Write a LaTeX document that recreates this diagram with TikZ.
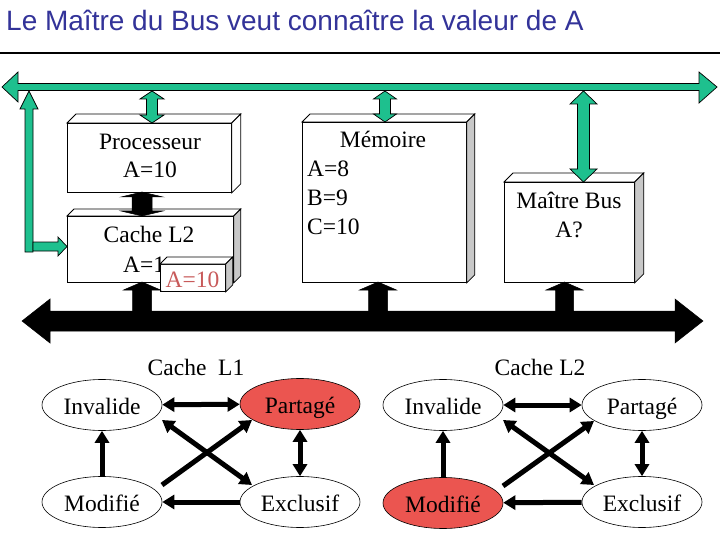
\documentclass[tikz,border=0pt]{standalone}
\usepackage{fontspec}
\setmainfont{Liberation Serif}
\newfontfamily\titlefont{Liberation Sans}
\usetikzlibrary{shapes.geometric,arrows.meta,calc}
\definecolor{busgreen}{RGB}{30,192,142}
\definecolor{titleblue}{RGB}{51,51,153}
\definecolor{sidegray}{RGB}{200,200,200}
\definecolor{statered}{RGB}{235,85,80}
\definecolor{valred}{RGB}{200,90,90}
\newcommand\boxfaces[3]{%
  \draw[face] (#1.north west) -- ++(#2,-#2) -- ($(#1.north east)+(#2,-#2)$) -- (#1.north east) -- cycle;
  \draw[#3] (#1.north east) -- ++(#2,-#2) -- ($(#1.south east)+(#2,-#2)$) -- (#1.south east) -- cycle;}
\newcommand\vdbl[7]{%
  \filldraw[#7] (#1,#2) -- ({#1+#5},{#2+#6}) -- ({#1+#4},{#2+#6}) -- ({#1+#4},{#3-#6}) -- ({#1+#5},{#3-#6}) -- (#1,#3) -- ({#1-#5},{#3-#6}) -- ({#1-#4},{#3-#6}) -- ({#1-#4},{#2+#6}) -- ({#1-#5},{#2+#6}) -- cycle;}
\newcommand\vup[7]{%
  \filldraw[#7] (#1,#2) -- ({#1+#5},{#2+#6}) -- ({#1+#4},{#2+#6}) -- ({#1+#4},#3) -- ({#1-#4},#3) -- ({#1-#4},{#2+#6}) -- ({#1-#5},{#2+#6}) -- cycle;}
\begin{document}
\begin{tikzpicture}[x=1pt,y=-1pt,
  face/.style={draw, line width=0.8pt, fill=white},
  side/.style={draw, line width=0.8pt, fill=sidegray},
  boxnode/.style={draw, line width=0.8pt, fill=white, rectangle, anchor=north west, inner sep=0pt},
  txt/.style={font=\fontsize{23.5}{28}\selectfont, inner sep=0pt, anchor=base},
  txtl/.style={txt, anchor=base west},
  blockg/.style={fill=busgreen, draw=black, line width=0.7pt, line join=miter},
  blockk/.style={fill=black, draw=black, line width=0.5pt},
  state/.style={ellipse, draw, line width=0.6pt, minimum width=120, minimum height=51, inner sep=0pt, text height=19pt, text depth=1pt, font=\fontsize{23.5}{28}\selectfont},
  sarrow/.style={line width=5pt, -{Triangle[length=12pt,width=14pt]}},
  darrow/.style={line width=5pt, {Triangle[length=12pt,width=14pt]}-{Triangle[length=12pt,width=14pt]}}]
\useasboundingbox (0,0) rectangle (720,540);
\fill[white] (0,0) rectangle (720,540);
% title
\node[inner sep=0pt, anchor=base west, text=titleblue, font=\titlefont\fontsize{28}{32}\selectfont] (title) at (6,31) {Le Maître du Bus veut connaître la valeur de A};
\coordinate (rl) at (0,53);
\coordinate (rr) at (720,53);
\draw[line width=1.1pt] (rl) -- (rr);
% boxes
\node[boxnode, minimum width=164, minimum height=69] (proc) at (67,123) {};
\boxfaces{proc}{9}{face}
\node[boxnode, minimum width=166, minimum height=66] (cache) at (67,216) {};
\boxfaces{cache}{7}{side}
\node[boxnode, minimum width=164, minimum height=160] (mem) at (302,122) {};
\boxfaces{mem}{8}{side}
\node[boxnode, minimum width=130, minimum height=100] (maitre) at (504,182) {};
\boxfaces{maitre}{9}{side}
% box texts
\node[txt] (tproc) at (150,150) {Processeur};
\node[txt] (tprocA) at (150,178) {A=10};
\node[txt] (tcache) at (149,243) {Cache L2};
\node[txtl] (tcacheA) at (123,272) {A=1};
\node[txt] (tmem) at (383,148) {Mémoire};
\node[txtl] (tmemA) at (307,177) {A=8};
\node[txtl] (tmemB) at (307,206) {B=9};
\node[txtl] (tmemC) at (307,235) {C=10};
\node[txt] (tmai) at (569,208) {Maître Bus};
\node[txt] (tmaiA) at (569,237) {A?};
% overlay value box
\node[boxnode, minimum width=65, minimum height=27] (ov) at (160,264) {};
\boxfaces{ov}{7}{side}
\node[txt, text=valred] (tov) at (192.5,287) {A=10};
% green bus
\filldraw[blockg] (2,87) -- (18,72) -- (18,83.5) -- (699,83.5) -- (699,72) -- (717,87) -- (699,103) -- (699,90.5) -- (18,90.5) -- (18,102) -- cycle;
% green left L arrows
\filldraw[blockg] (29,91) -- (38,109) -- (33,109) -- (33,252) -- (25,252) -- (25,109) -- (20,109) -- cycle;
\filldraw[blockg] (33,242) -- (58,242) -- (58,237) -- (67,246.5) -- (58,256) -- (58,251) -- (33,251) -- cycle;
% green double arrows
\vdbl{152}{91}{123}{5.5}{12}{8}{blockg}
\vdbl{385}{91}{122}{5.5}{11.5}{8}{blockg}
\vdbl{583.5}{91}{182}{6}{13.5}{13}{blockg}
% black bus
\filldraw[blockk] (22,321) -- (50,299) -- (50,311) -- (675,311) -- (675,299) -- (703,321) -- (675,343) -- (675,331) -- (50,331) -- (50,343) -- cycle;
\vup{142}{282}{311}{9.5}{18.5}{8}{blockk}
\vup{378}{282}{311}{9.5}{18.5}{8}{blockk}
\vup{564.5}{282}{311}{9}{18.5}{8}{blockk}
\vdbl{142}{192}{216}{10}{21}{5}{blockk}
% state diagrams
\node[txt] (l1) at (196,375) {Cache~ L1};
\node[txt] (l2) at (540,375) {Cache L2};
\node[state] (inv1) at (102,405) {Invalide};
\node[state, fill=statered] (par1) at (300,404) {Partagé};
\node[state] (mod1) at (102,502) {Modifié};
\node[state] (exc1) at (300,502) {Exclusif};
\node[state] (inv2) at (443,405) {Invalide};
\node[state] (par2) at (642,405) {Partagé};
\node[state, fill=statered] (mod2) at (443,503) {Modifié};
\node[state] (exc2) at (642,502) {Exclusif};
\foreach \s in {1,2}{
  \draw[darrow] (inv\s) -- (par\s);
  \draw[darrow] (par\s) -- (exc\s);
  \draw[sarrow] (mod\s) -- (inv\s);
  \draw[sarrow] (exc\s) -- (mod\s);
  \draw[sarrow] ($(mod\s)+(60,-17)$) -- ($(par\s)+(-48,16)$);
  \draw[darrow] ($(inv\s)+(60,15)$) -- ($(exc\s)+(-48,-17)$);
}
\end{tikzpicture}
\end{document}
